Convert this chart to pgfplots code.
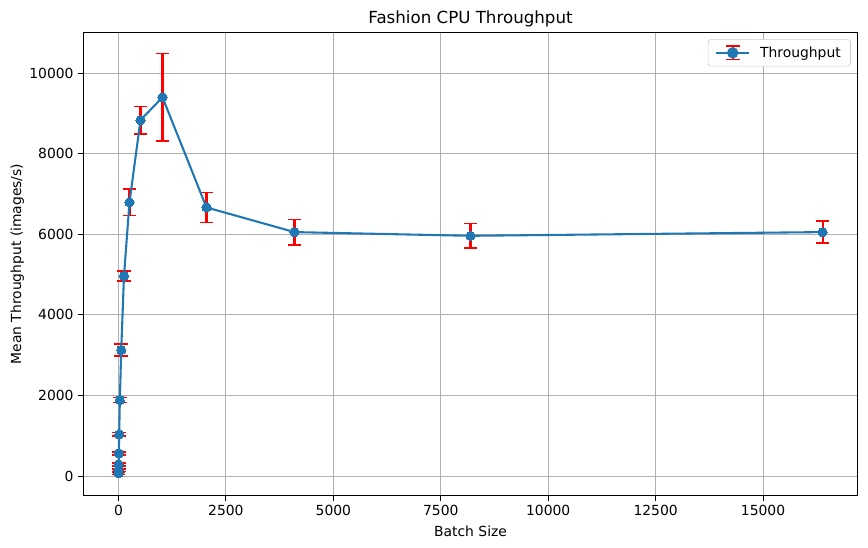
\documentclass[border=0pt]{standalone}
\usepackage{fontspec}
\setmainfont{DejaVu Sans}
\usepackage{pgfplots}
\usepackage{pgfplotstable}
\pgfplotsset{compat=1.18}
\definecolor{c0}{HTML}{1F77B4}
\definecolor{gridgray}{HTML}{B0B0B0}

\pgfplotstableread{
batch tput err
1     67    30
2     149   30
4     290   35
8     563   35
16    1035  40
32    1886  65
64    3127  150
128   4963  125
256   6792  330
512   8834  340
1024  9400  1085
2048  6667  370
4096  6055  320
8192  5963  305
16384 6055  275
}\cputhroughput

\begin{document}
\begin{tikzpicture}
\begin{axis}[
    name=main,
    scale only axis,
    width=557.6pt,
    height=333.6pt,
    xmin=-818, xmax=17203,
    ymin=-486, ymax=11012,
    xtick={0,2500,5000,7500,10000,12500,15000},
    ytick={0,2000,4000,6000,8000,10000},
    /pgf/number format/1000 sep={},
    /pgf/number format/assume math mode=true,
    scaled ticks=false,
    tick pos=left,
    tick align=outside,
    major tick length=3.5pt,
    tick style={black, line width=0.8pt},
    axis line style={line width=0.8pt},
    grid=major,
    major grid style={gridgray, line width=0.8pt},
    tick label style={font=\fontsize{10}{12}\selectfont},
    label style={font=\fontsize{10}{12}\selectfont},
    ylabel style={yshift=-3pt},
    title style={font=\fontsize{12}{14}\selectfont, yshift=-6pt},
    title={Fashion CPU Throughput},
    xlabel={Batch Size},
    ylabel={Mean Throughput (images/s)},
    legend style={
        at={(1,1)}, xshift=-5pt, yshift=-5pt, anchor=north east,
        draw=black!20, rounded corners=2pt,
        font=\fontsize{10}{12}\selectfont,
        inner xsep=5pt, inner ysep=3pt,
        /tikz/every odd column/.append style={column sep=5pt},
    },
    legend cell align=left,
]
% error bars first, so the markers sit on top of them
\addplot[
    forget plot, draw=none, mark=none,
    error bars/.cd,
        y dir=both, y explicit,
        error bar style={draw=red, line width=1.5pt},
        error mark=-,
        error mark options={draw=red, rotate=90, mark size=5pt, line width=1pt},
] table[x=batch, y=tput, y error=err] {\cputhroughput};
\addplot[
    c0, line width=1.5pt,
    mark=*, mark size=3.3pt, mark options={draw=c0, fill=c0, line width=0pt},
    legend image code/.code={
        \draw[c0, line width=1.5pt] (0pt,0pt) -- (24pt,0pt);
        \draw[red, line width=1.5pt] (12pt,-5pt) -- (12pt,5pt);
        \draw[red, line width=1pt] (7pt,5pt) -- (17pt,5pt);
        \draw[red, line width=1pt] (7pt,-5pt) -- (17pt,-5pt);
        \fill[c0] (12pt,0pt) circle (3.3pt);
    },
] table[x=batch, y=tput] {\cputhroughput};
\legend{Throughput}
\end{axis}
\pgfresetboundingbox
\path (main.south west) ++(-60pt,-37pt) coordinate (bbl);
\path (main.north east) ++(7.4pt,23.3pt) coordinate (btr);
\path[use as bounding box] (bbl) rectangle (btr);
\end{tikzpicture}
\end{document}
